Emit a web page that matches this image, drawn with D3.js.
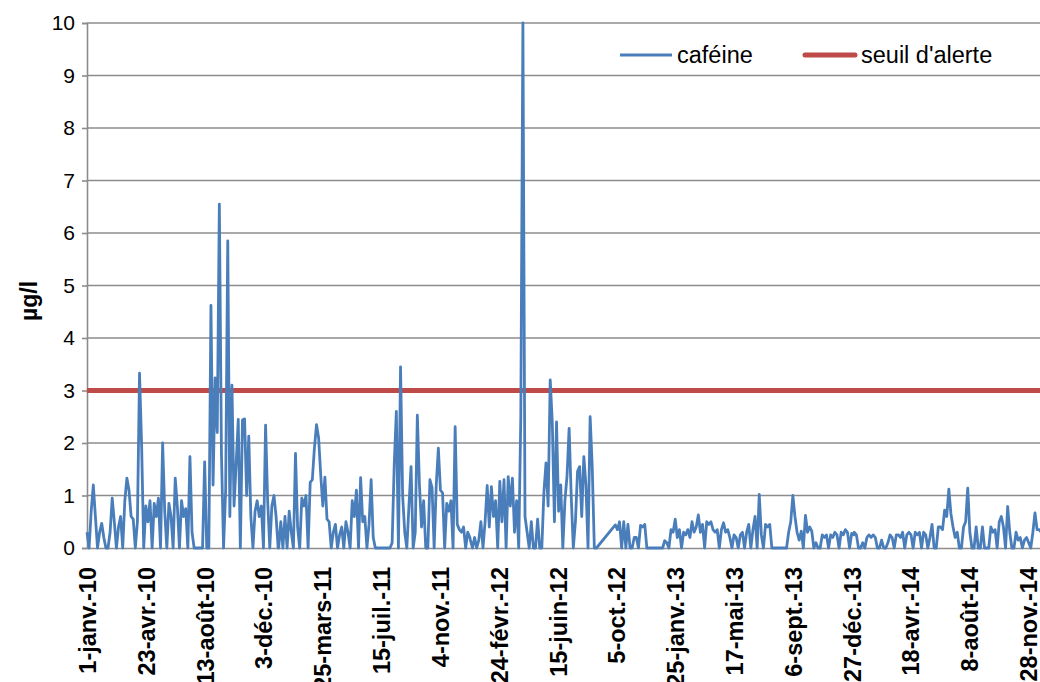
<!DOCTYPE html>
<html>
<head>
<meta charset="utf-8">
<script src="https://cdn.jsdelivr.net/npm/d3@7"></script>
<style>
  html, body { margin: 0; padding: 0; background: #fff; }
  svg { display: block; font-family: "Liberation Sans", Arial, sans-serif; }
</style>
</head>
<body>
<svg id="chart" width="1040" height="682"></svg>
<script>
// Caffeine concentration (µg/l), one reading every 4 days starting on 1 January of each year.
// null = no measurement (the line is joined across the gap).
const cafeine2010 = [
  0.3, 0.0, 0.7, 1.2, 0.6, 0.0, 0.3, 0.47, 0.2, 0.0,
  0.0, 0.3, 0.95, 0.5, 0.0, 0.4, 0.6, 0.0, 0.9, 1.33,
  1.1, 0.6, 0.55, 0.0, 0.5, 3.33, 1.96, 0.0, 0.8, 0.5,
  0.9, 0.0, 0.85, 0.6, 0.95, 0.0, 2.0, 0.7, 0.0, 0.85,
  0.6, 0.0, 1.33, 0.8, 0.0, 0.9, 0.6, 0.75, 0.0, 1.74,
  0.3, 0.0, 0.0, 0.0, 0.0, 0.0, 1.64, 0.0, 0.0, 4.62,
  1.2, 3.24, 2.2, 6.55, 1.8, 0.0, 1.1, 5.85, 0.6, 3.1,
  0.8, 1.6, 2.45, 0.0, 2.44, 2.46, 1.0, 2.13, 0.6, 0.0,
  0.7, 0.9, 0.6, 0.8, 0.0, 2.34, 0.9, 0.0, 0.8, 1.0,
  0.6, 0.0
];
const cafeine2011 = [
  0.0, 0.5, 0.0, 0.6, 0.0, 0.7, 0.3, 0.0, 1.8, 0.4,
  0.0, 0.95, 0.8, 1.0, 0.0, 1.25, 1.3, 1.9, 2.35, 2.1,
  1.4, 0.8, 1.35, 0.55, 0.5, 0.0, 0.3, 0.45, 0.0, 0.25,
  0.4, 0.0, 0.5, 0.3, 0.0, 0.9, 0.6, 1.1, 0.0, 1.34,
  0.5, 0.6, 0.0, 0.45, 1.3, 0.2, 0.0, 0.0, 0.0, 0.0,
  0.0, 0.0, 0.0, 0.0, 0.1, 1.59, 2.6, 0.0, 3.45, 1.0,
  0.3, 0.0, 0.8, 1.55, 0.0, 0.3, 2.53, 1.2, 0.4, 0.9,
  0.0, 0.0, 1.3, 1.15, 0.0, 1.2, 1.9, 1.1, 1.05, 0.0,
  0.85, 0.7, 0.9, 0.0, 2.31, 0.45, 0.35, 0.3, 0.4, 0.0,
  0.3, 0.2
];
const cafeine2012 = [
  0.15, 0.0, 0.2, 0.0, 0.15, 0.5, 0.0, 0.5, 1.19, 0.4,
  1.17, 0.6, 0.9, 0.0, 1.27, 0.5, 1.3, 0.0, 1.36, 0.8,
  1.33, 0.3, 0.9, 0.0, 2.5, 10.0, 0.6, 0.3, 0.0, 0.5,
  0.0, 0.0, 0.55, 0.0, 0.0, 1.07, 1.62, 0.8, 3.2, 2.38,
  0.5, 2.4, 0.7, 1.2, 0.0, 0.9, 1.37, 2.28, 0.98, 0.0,
  0.5, 1.46, 1.55, 0.6, 1.74, 1.2, 0.0, 2.5, 1.55, 0.0,
  0.0, null, null, null, null, null, null, null, null, 0.44,
  0.35, 0.5, 0.0, 0.5, 0.0, 0.45, 0.0, 0.0, 0.2, 0.2,
  0.0, 0.43, 0.4, 0.45, 0.0, 0.0, 0.0, 0.0, 0.0, 0.0,
  0.0, 0.0
];
const cafeine2013 = [
  0.0, 0.14, 0.1, 0.0, 0.35, 0.3, 0.55, 0.2, 0.35, 0.0,
  0.3, 0.25, 0.35, 0.2, 0.5, 0.3, 0.4, 0.63, 0.3, 0.45,
  0.0, 0.5, 0.45, 0.5, 0.35, 0.3, 0.35, 0.0, 0.35, 0.48,
  0.3, 0.35, 0.2, 0.0, 0.25, 0.2, 0.0, 0.25, 0.3, 0.0,
  0.3, 0.45, 0.0, 0.35, 0.6, 0.0, 1.02, 0.25, 0.0, 0.45,
  0.4, 0.45, 0.0, 0.0, 0.0, 0.0, 0.0, 0.0, 0.0, 0.0,
  0.3, 0.5, 1.0, 0.6, 0.3, 0.15, 0.32, 0.0, 0.62, 0.3,
  0.4, 0.32, 0.0, 0.1, 0.0, 0.0, 0.25, 0.2, 0.25, 0.0,
  0.25, 0.2, 0.3, 0.25, 0.0, 0.3, 0.25, 0.35, 0.3, 0.0,
  0.28, 0.25
];
const cafeine2014 = [
  0.3, 0.25, 0.0, 0.0, 0.1, 0.0, 0.2, 0.25, 0.2, 0.25,
  0.2, 0.0, 0.0, 0.15, 0.0, 0.0, 0.1, 0.25, 0.2, 0.0,
  0.25, 0.25, 0.2, 0.3, 0.0, 0.25, 0.3, 0.25, 0.0, 0.3,
  0.25, 0.3, 0.0, 0.3, 0.25, 0.0, 0.2, 0.45, 0.0, 0.0,
  0.4, 0.4, 0.35, 0.72, 0.6, 1.12, 0.65, 0.4, 0.2, 0.3,
  0.0, 0.0, 0.4, 0.5, 1.14, 0.3, 0.0, 0.0, 0.4, 0.0,
  0.0, 0.4, 0.0, 0.0, 0.0, 0.4, 0.3, 0.35, 0.0, 0.5,
  0.6, 0.4, 0.0, 0.79, 0.3, 0.0, 0.0, 0.3, 0.15, 0.2,
  0.0, 0.15, 0.2, 0.1, 0.0, 0.3, 0.67, 0.35, 0.35, 0.3,
  0.2, 0.0
];
const years = [2010, 2011, 2012, 2013, 2014];
const seriesByYear = [cafeine2010, cafeine2011, cafeine2012, cafeine2013, cafeine2014];
const stepDays = 4;

const seuilAlerte = 3;
const yTicks = [0, 1, 2, 3, 4, 5, 6, 7, 8, 9, 10];
// Category labels of the date axis (every 112 days from 1 January 2010)
const xTickLabels = [
  "1-janv.-10", "23-avr.-10", "13-août-10", "3-déc.-10", "25-mars-11",
  "15-juil.-11", "4-nov.-11", "24-févr.-12", "15-juin-12", "5-oct.-12",
  "25-janv.-13", "17-mai-13", "6-sept.-13", "27-déc.-13", "18-avr.-14",
  "8-août-14", "28-nov.-14"
];
const tickIntervalDays = 112;
const legendLabels = ["caféine", "seuil d'alerte"];
const yTitle = "µg/l";

(function draw() {
  // Build dated points
  const points = [];
  years.forEach((yr, k) => {
    seriesByYear[k].forEach((v, i) => {
      if (v !== null) points.push({ date: new Date(yr, 0, 1 + stepDays * i), value: v });
    });
  });

  const svg = d3.select("#chart");
  const plotLeft = 87, plotRight = 1046, plotTop = 23, plotBottom = 548;

  const x = d3.scaleTime()
    .domain([new Date(2010, 0, 1), new Date(2015, 0, 1)])
    .range([plotLeft, plotRight]);
  const y = d3.scaleLinear().domain([0, 10]).range([plotBottom, plotTop]);

  const gridColor = "#8c8c8c";

  // Horizontal gridlines
  svg.append("g")
    .selectAll("line")
    .data(yTicks.filter(d => d > 0))
    .join("line")
    .attr("x1", plotLeft).attr("x2", plotRight)
    .attr("y1", d => y(d)).attr("y2", d => y(d))
    .attr("stroke", gridColor).attr("stroke-width", 1.6);

  // Y axis
  const yAxis = d3.axisLeft(y).tickValues(yTicks).tickSize(5).tickPadding(7).tickFormat(d3.format("d"));
  const gy = svg.append("g").attr("transform", `translate(${plotLeft},0)`).call(yAxis);
  gy.select(".domain").attr("stroke", gridColor).attr("stroke-width", 1.6);
  gy.selectAll(".tick line").attr("stroke", gridColor).attr("stroke-width", 1.6);
  gy.selectAll(".tick text")
    .attr("font-size", 21).attr("fill", "#000")
    .attr("font-family", "Liberation Sans, Arial, sans-serif");

  // X axis (date ticks every 112 days)
  const tickDates = xTickLabels.map((_, i) => new Date(2010, 0, 1 + tickIntervalDays * i));
  const xAxis = d3.axisBottom(x).tickValues(tickDates).tickSize(0)
    .tickFormat((d, i) => xTickLabels[i]);
  const gx = svg.append("g").attr("transform", `translate(0,${plotBottom})`).call(xAxis);
  gx.select(".domain").attr("stroke", gridColor).attr("stroke-width", 1.6);
  gx.selectAll(".tick text")
    .attr("font-size", 23.5).attr("font-weight", "bold").attr("fill", "#000")
    .attr("font-family", "Liberation Sans, Arial, sans-serif")
    .attr("text-anchor", "end")
    .attr("transform", "translate(0,19) rotate(-90)")
    .attr("x", 0).attr("y", 0).attr("dy", "0.36em");

  // Y axis title
  svg.append("text")
    .attr("transform", "translate(29,301) rotate(-90)")
    .attr("text-anchor", "middle").attr("dy", "0.35em")
    .attr("font-size", 23).attr("font-weight", "bold")
    .text(yTitle);

  // Alert threshold
  svg.append("line")
    .attr("x1", plotLeft).attr("x2", plotRight)
    .attr("y1", y(seuilAlerte)).attr("y2", y(seuilAlerte))
    .attr("stroke", "#be4b48").attr("stroke-width", 5);

  // Caffeine series
  const line = d3.line().x(d => x(d.date)).y(d => y(d.value));
  svg.append("path")
    .datum(points)
    .attr("d", line)
    .attr("fill", "none")
    .attr("stroke", "#4a7ebb")
    .attr("stroke-width", 2.8)
    .attr("stroke-linejoin", "round");

  // Legend
  const legend = svg.append("g").attr("font-size", 23.5);
  legend.append("line").attr("x1", 620).attr("x2", 672).attr("y1", 55).attr("y2", 55)
    .attr("stroke", "#4a7ebb").attr("stroke-width", 2.8);
  legend.append("text").attr("x", 677).attr("y", 55).attr("dy", "0.35em").text(legendLabels[0]);
  legend.append("line").attr("x1", 805).attr("x2", 855).attr("y1", 55).attr("y2", 55)
    .attr("stroke", "#be4b48").attr("stroke-width", 5).attr("stroke-linecap", "round");
  legend.append("text").attr("x", 861).attr("y", 55).attr("dy", "0.35em").text(legendLabels[1]);
})();
</script>
</body>
</html>
